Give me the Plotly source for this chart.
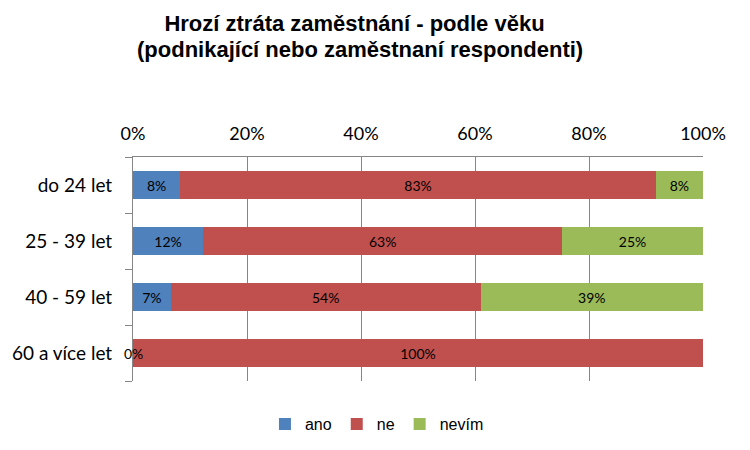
import plotly.graph_objects as go

# Data
categories = ['do 24 let', '25 - 39 let', '40 - 59 let', '60 a více let']
ano = [8.3, 12.3, 6.6, 0]
ne = [83.4, 63.0, 54.4, 100]
nevim = [8.3, 24.7, 39.0, None]
x_ticks = [0, 20, 40, 60, 80, 100]

series = [('ano', ano, '#4F81BD'), ('ne', ne, '#C0504D'), ('nevím', nevim, '#9BBB59')]

fig = go.Figure()
for name, vals, color in series:
    fig.add_trace(go.Bar(
        y=categories, x=vals, name=name, orientation='h',
        marker=dict(color=color, line=dict(width=0)),
        texttemplate='%{x:.0f}%', textposition='inside', insidetextanchor='middle',
        textfont=dict(family='Lato', size=14, color='black'),
        constraintext='none', width=0.5,
    ))

# zero-valued bar label
fig.add_annotation(x=ano[3], y=categories[3], text=f'{ano[3]:.0f}%', showarrow=False,
                   xanchor='center', font=dict(family='Lato', size=14, color='black'))

# second title line
fig.add_annotation(text='<b>(podnikající nebo zaměstnaní respondenti)</b>', xref='paper', yref='paper',
                   x=0.398, y=1.478, xanchor='center', yanchor='middle', showarrow=False,
                   font=dict(family='Liberation Sans', size=22, color='black'))

fig.update_layout(
    barmode='stack',
    width=750, height=450,
    margin=dict(l=125, r=55, t=149, b=77),
    paper_bgcolor='white', plot_bgcolor='white',
    title=dict(text='<b>Hrozí ztráta zaměstnání - podle věku</b>',
               x=0.462, xanchor='center', y=0.966, yanchor='middle', yref='container',
               font=dict(family='Liberation Sans', size=22, color='black')),
    legend=dict(orientation='h', x=0.428, xanchor='center', y=-0.117, yanchor='top',
                font=dict(family='Liberation Sans', size=16, color='black'),
                traceorder='normal', itemwidth=30),
    bargap=0.5,
)
fig.update_xaxes(side='top', range=[0, 100], tickvals=x_ticks,
                 ticktext=[f'{v}%' for v in x_ticks],
                 showgrid=True, gridcolor='#868686', gridwidth=1,
                 showline=True, linecolor='#868686', ticks='', zeroline=False,
                 tickfont=dict(family='Lato', size=18, color='black'), automargin=False,
                 ticklabelstandoff=9)
fig.update_yaxes(categoryorder='array', categoryarray=categories[::-1],
                 showline=True, linecolor='#868686', ticks='outside', tickson='boundaries',
                 ticklen=7, tickcolor='#868686', automargin=False,
                 tickfont=dict(family='Lato', size=19, color='black'), ticklabelstandoff=16)

fig.write_html('out.html')
